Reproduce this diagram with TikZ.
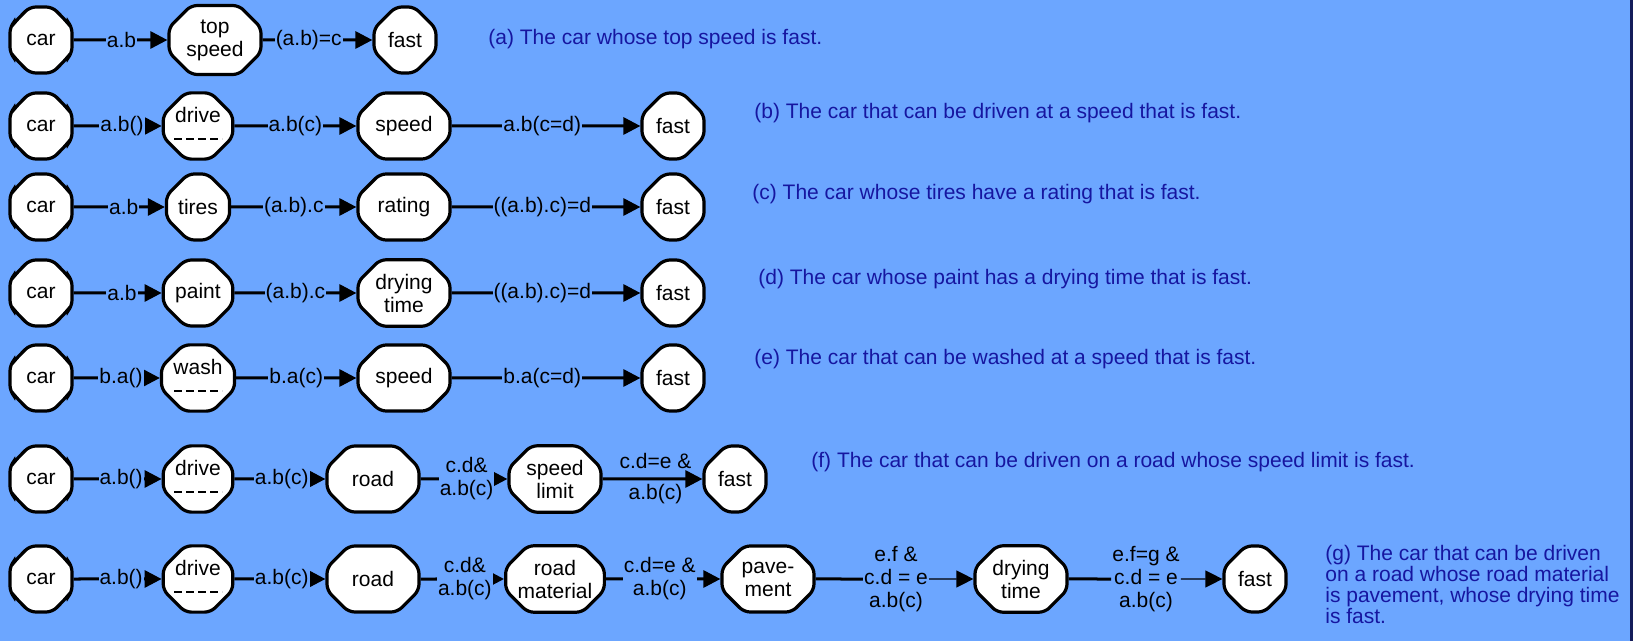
\documentclass[tikz,border=0pt]{standalone}
\usepackage{fontspec}
\setmainfont{Liberation Sans}
\usetikzlibrary{arrows.meta, positioning, shapes.misc}
\definecolor{dgBack}{RGB}{108,166,255}
\definecolor{dgCapt}{RGB}{22,22,160}
\definecolor{dgEdge}{RGB}{20,28,90}

\begin{document}
\begin{tikzpicture}[x=0.5pt,y=-0.5pt,
  font=\fontsize{10.5}{11.5}\selectfont,
  obj/.style={draw=black,line width=1.6pt,fill=white,chamfered rectangle,
              chamfered rectangle xsep=5pt,chamfered rectangle ysep=6pt,rounded corners=3pt,
              minimum width=31pt,minimum height=33pt,inner sep=1pt,align=center},
  wide/.style={obj,minimum width=46pt},
  meth/.style={obj,path picture={\draw[line width=0.8pt,dash pattern=on 4pt off 2pt]
      ([xshift=-12pt,yshift=-6.5pt]path picture bounding box.center) -- ++(24pt,0);}},
  lbl/.style={fill=dgBack,inner sep=0.5pt,align=center},
  arr/.style={-{Triangle[length=8.5pt,width=8.5pt]},line width=1.5pt},
  capt/.style={anchor=west,text=dgCapt,align=left,inner sep=0pt}]

\useasboundingbox (0,0) rectangle (1633,641);
\fill[dgBack] (0,0) rectangle (1633,641);
\fill[dgEdge] (1630,0) rectangle (1633,641);

% (a)
\node[obj]  (a1) at (41,40)  {car};
\node[wide] (a2) at (215,40) {top\\speed};
\node[obj]  (a3) at (405,40) {fast};
\draw[arr] (a1) -- node[lbl,pos=.51] {a.b} (a2);
\draw[arr] (a2) -- node[lbl,pos=.42] {(a.b)=c} (a3);

% (b) - (e)
\foreach \r/\y/\sty/\mid/\prop/\la/\lb/\lc in {%
  b/126/meth/{drive\\~}/speed/{a.b()}/{a.b(c)}/{a.b(c=d)},
  c/207/obj/tires/rating/{a.b}/{(a.b).c}/{((a.b).c)=d},
  d/293/obj/paint/{drying\\time}/{a.b}/{(a.b).c}/{((a.b).c)=d},
  e/378/meth/{wash\\~}/speed/{b.a()}/{b.a(c)}/{b.a(c=d)}}
{
  \node[obj]   (\r1) at (41,\y)  {car};
  \node[\sty]  (\r2) at (198,\y) {\mid};
  \node[wide]  (\r3) at (404,\y) {\prop};
  \node[obj]   (\r4) at (673,\y) {fast};
  \draw[arr] (\r1) -- node[lbl,pos=.55] {\la} (\r2);
  \draw[arr] (\r2) -- node[lbl,pos=.5] {\lb} (\r3);
  \draw[arr] (\r3) -- node[lbl,pos=.48] {\lc} (\r4);
}

% (f)
\node[obj]  (f1) at (41,479)  {car};
\node[meth] (f2) at (198,479) {drive\\~};
\node[wide] (f3) at (373,479) {road};
\node[wide] (f4) at (555,479) {speed\\limit};
\node[obj]  (f5) at (735,479) {fast};
\draw[arr] (f1) -- node[lbl,pos=.54] {a.b()} (f2);
\draw[arr] (f2) -- node[lbl,pos=.52] {a.b(c)} (f3);
\draw[arr] (f3) -- node[lbl,pos=.53] {c.d\&\\a.b(c)} (f4);
\draw[arr] (f4) -- node[align=center,pos=.53] {c.d=e \&\\[4pt]a.b(c)} (f5);

% (g)
\node[obj]  (g1) at (41,579)   {car};
\node[meth] (g2) at (198,579)  {drive\\~};
\node[wide] (g3) at (373,579)  {road};
\node[wide] (g4) at (555,579)  {road\\material};
\node[wide] (g5) at (768,579)  {pave-\\ment};
\node[wide] (g6) at (1021,579) {drying\\time};
\node[obj]  (g7) at (1255,579) {fast};
\node[lbl]  (gl1) at (896,579)  {e.f \&\\c.d = e\\a.b(c)};
\node[lbl]  (gl2) at (1146,579) {e.f=g \&\\c.d = e\\a.b(c)};
\draw[arr] (g1) -- node[lbl,pos=.54] {a.b()} (g2);
\draw[arr] (g2) -- node[lbl,pos=.52] {a.b(c)} (g3);
\draw[arr] (g3) -- node[lbl,pos=.53] {c.d\&\\a.b(c)} (g4);
\draw[arr] (g4) -- node[lbl,pos=.47] {c.d=e \&\\a.b(c)} (g5);
\draw[line width=1.5pt] (g5) -- (gl1);
\draw[arr,line width=0.6pt] (gl1) -- (g6);
\draw[line width=1.5pt] (g6) -- (gl2);
\draw[arr,line width=0.6pt] (gl2) -- (g7);

% captions
\node[capt] (ca) at (488,39)  {(a) The car whose top speed is fast.};
\node[capt] (cb) at (754,113) {(b) The car that can be driven at a speed that is fast.};
\node[capt] (cc) at (752,194) {(c) The car whose tires have a rating that is fast.};
\node[capt] (cd) at (758,279) {(d) The car whose paint has a drying time that is fast.};
\node[capt] (ce) at (754,359) {(e) The car that can be washed at a speed that is fast.};
\node[capt] (cf) at (811,462) {(f) The car that can be driven on a road whose speed limit is fast.};
\node[capt,anchor=north west,font=\fontsize{10.5}{10.5}\selectfont] (cg) at (1325,545)
  {(g) The car that can be driven\\on a road whose road material\\is pavement, whose drying time\\is fast.};
\end{tikzpicture}
\end{document}
